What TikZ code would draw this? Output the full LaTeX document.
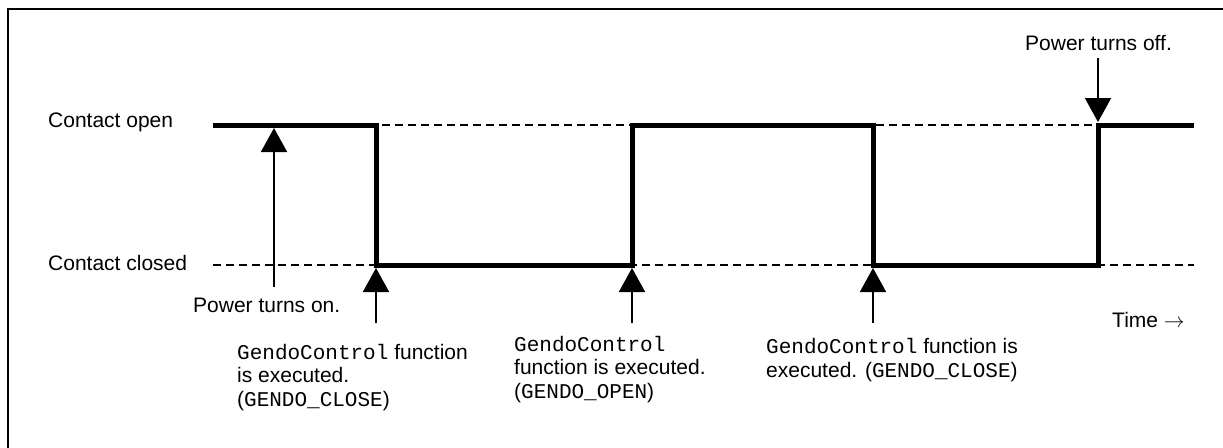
\documentclass[tikz,border=0pt]{standalone}
\usepackage{fontspec}
\setmainfont{Liberation Sans}
\setmonofont{Liberation Mono}
\usetikzlibrary{arrows.meta}
\begin{document}
\begin{tikzpicture}[x=1pt,y=-1pt,
  lbl/.style={inner sep=0pt, anchor=base west, font=\fontsize{21}{23.5}\selectfont, align=left},
  wave/.style={line width=5pt, line join=miter},
  lvl/.style={line width=1.3pt, dash pattern=on 8pt off 5pt},
  evt/.style={line width=1.8pt, -{Triangle[width=26pt,length=24pt]}},
  frame/.style={line width=2pt}]
\useasboundingbox (0,0) rectangle (1223,447);
\clip (0,0) rectangle (1223,447);
\draw[frame] (8,9) rectangle (1260,480);

% level coordinates
\coordinate (o0) at (213,125);
\coordinate (o1) at (376,125);
\coordinate (c1) at (376,265);
\coordinate (c2) at (632,265);
\coordinate (o2) at (632,125);
\coordinate (o3) at (873,125);
\coordinate (c3) at (873,265);
\coordinate (c4) at (1098,265);
\coordinate (o4) at (1098,125);
\coordinate (oE) at (1194,125);
\coordinate (c0) at (213,265);
\coordinate (cE) at (1194,265);

% dashed reference levels
\draw[lvl] (o0) -- (oE);
\draw[lvl] (c0) -- (cE);

% waveform
\draw[wave] (o0) -- (o1) -- (c1) -- (c2) -- (o2) -- (o3) -- (c3) -- (c4) -- (o4) -- (oE);

% labels (base anchor of a multi-line node = last line's baseline)
\node[lbl] (lopen) at (48,127) {Contact open};
\node[lbl] (lclosed) at (48,270) {Contact closed};
\node[lbl] (pon) at (193,312) {Power turns on.};
\node[lbl] (poff) at (1025,50) {Power turns off.};
\node[lbl] (time) at (1112,327) {Time $\rightarrow$};
\node[lbl] (g1) at (237,406) {\texttt{GendoControl} function\\is executed.\\(\texttt{GENDO\_CLOSE})};
\node[lbl] (g2) at (514,398) {\texttt{GendoControl}\\function is executed.\\(\texttt{GENDO\_OPEN})};
\node[lbl] (g3) at (766,377) {\texttt{GendoControl} function is\\executed. (\texttt{GENDO\_CLOSE})};

% arrow tails and tips
\coordinate (ponT) at (274,287);
\coordinate (ponH) at (274,128);
\coordinate (g1T) at (376,323);
\coordinate (g1H) at (376,268);
\coordinate (g2T) at (632,323);
\coordinate (g2H) at (632,268);
\coordinate (g3T) at (873,323);
\coordinate (g3H) at (873,268);
\coordinate (poffT) at (1098,58);
\coordinate (poffH) at (1098,122);

\draw[evt] (ponT) -- (ponH);
\draw[evt] (g1T) -- (g1H);
\draw[evt] (g2T) -- (g2H);
\draw[evt] (g3T) -- (g3H);
\draw[evt] (poffT) -- (poffH);
\end{tikzpicture}
\end{document}
